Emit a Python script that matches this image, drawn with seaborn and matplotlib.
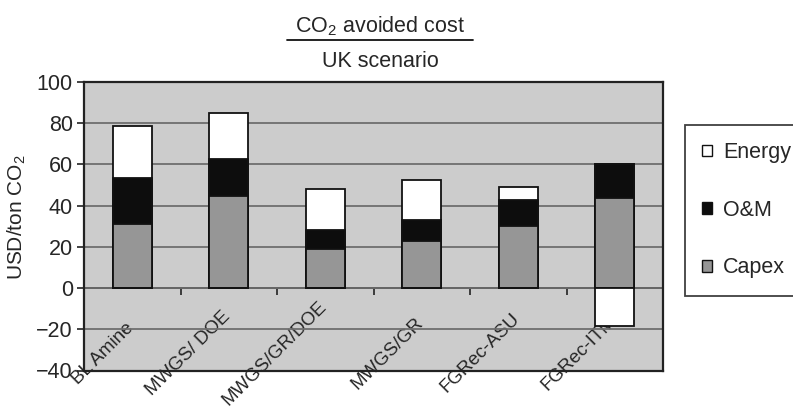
import numpy as np
import matplotlib
matplotlib.use("Agg")
import matplotlib.pyplot as plt
from matplotlib.patches import Patch
from matplotlib.lines import Line2D
import seaborn as sns

# Cost breakdown of CO2 avoided cost per capture route (USD/ton CO2)
categories = ["BL Amine", "MWGS/ DOE", "MWGS/GR/DOE", "MWGS/GR", "FGRec-ASU", "FGRec-ITM"]
capex = [31.2, 44.8, 19.1, 22.6, 30.2, 43.8]
om = [22.0, 17.9, 9.2, 10.4, 12.6, 16.5]
energy = [25.4, 22.2, 19.7, 19.5, 6.2, -18.3]

series_labels = ["Energy", "O&M", "Capex"]
series_colors = ["#ffffff", "#0d0d0d", "#969696"]
yticks = [-40, -20, 0, 20, 40, 60, 80, 100]

sns.set_style("white")
plt.rcParams["font.family"] = ["Liberation Sans", "DejaVu Sans"]
plt.rcParams["mathtext.fontset"] = "custom"
plt.rcParams["mathtext.rm"] = "Liberation Sans"
plt.rcParams["mathtext.it"] = "Liberation Sans"
plt.rcParams["mathtext.default"] = "regular"

FS = 15.5

W, H = 793, 408
fig = plt.figure(figsize=(W / 100, H / 100), dpi=100)
ax = fig.add_axes([84 / W, 1 - 370.5 / H, (663 - 84) / W, (370.5 - 82) / H])
ax.set_facecolor("#cccccc")

capex_a = np.array(capex)
om_a = np.array(om)
energy_a = np.array(energy)

# stacked layers: positive energy sits on top of capex + O&M, negative energy hangs below zero
layer_top = capex_a + om_a + np.clip(energy_a, 0, None)
layer_mid = capex_a + om_a
layer_low = capex_a
layer_neg = np.clip(energy_a, None, 0)

edge = "#111111"
lw = 1.3
for vals, col in [(layer_top, series_colors[0]), (layer_mid, series_colors[1]),
                  (layer_low, series_colors[2]), (layer_neg, series_colors[0])]:
    sns.barplot(x=categories, y=vals, color=col, saturation=1, width=0.4,
                edgecolor=edge, linewidth=lw, ax=ax, zorder=3)

ax.set_xlim(-0.5, len(categories) - 0.5)
ax.set_ylim(-40, 100)
ax.set_yticks(yticks)
ax.yaxis.grid(True, color="#6e6e6e", linewidth=1.3, zorder=1)
ax.set_axisbelow(True)
ax.tick_params(axis="y", direction="out", length=5, width=1.2, color="#222222",
               labelsize=FS, pad=3, left=True)
ax.tick_params(axis="x", bottom=False, labelbottom=False)
ax.set_xlabel("")
for s in ax.spines.values():
    s.set_visible(True)
    s.set_color("#222222")
    s.set_linewidth(1.6)

ax.set_ylabel("USD/ton CO$_2$", fontsize=15, labelpad=6, y=0.53)

# category axis crossing at zero
zero_frac = (0 - (-40)) / 140
sec = ax.secondary_xaxis(zero_frac)
sec.spines["bottom"].set_color("#1a1a1a")
sec.spines["bottom"].set_linewidth(1.4)
sec.set_xticks(np.arange(len(categories) - 1) + 0.5)
sec.set_xticklabels([])
# label anchors sit a touch right of each category centre
sec.set_xticks(np.arange(len(categories)) + 0.05, labels=categories, minor=True)
sec.tick_params(axis="x", which="major", direction="out", length=5, width=1.2, color="#222222")
sec.tick_params(axis="x", which="minor", length=0, pad=47, labelsize=13.5)
for lab in sec.get_xticklabels(minor=True):
    lab.set_rotation(45)
    lab.set_ha("right")
    lab.set_va("center")
    lab.set_rotation_mode("default")

# two-line title separated by a rule
cx = 380 / W
fig.text(cx, 1 - 32 / H, "CO$_2$ avoided cost", ha="center", va="baseline", fontsize=FS)
fig.text(cx, 1 - 67 / H, "UK scenario", ha="center", va="baseline", fontsize=FS)
fig.add_artist(Line2D([287 / W, 473 / W], [1 - 40 / H, 1 - 40 / H],
                      transform=fig.transFigure, color="#111111", linewidth=1.3))

handles = [Patch(facecolor=c, edgecolor="#111111", linewidth=1.0) for c in series_colors]
leg = fig.legend(handles, series_labels, loc="upper left",
                 bbox_to_anchor=(685 / W, 1 - 125 / H), bbox_transform=fig.transFigure,
                 frameon=True, fancybox=False, fontsize=FS, handlelength=0.47,
                 handleheight=0.47, handletextpad=0.5, labelspacing=1.7,
                 borderpad=0.8, borderaxespad=0)
leg.get_frame().set_edgecolor("#111111")
leg.get_frame().set_linewidth(1.3)

fig.savefig("out.png", dpi=100)
